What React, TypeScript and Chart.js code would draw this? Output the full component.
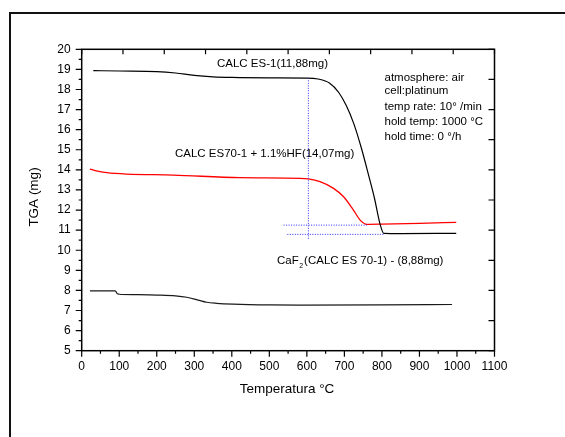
import React, { useEffect, useRef } from "react";
import { Chart, registerables } from "chart.js";

Chart.register(...registerables);

// CALC ES-1 (11,88mg)
const esTemp = [31, 100, 200, 250, 300, 350, 400, 500, 600, 630, 660, 685, 705, 725, 745, 765, 780, 795, 805, 850, 998];
const esMass = [18.94, 18.92, 18.89, 18.82, 18.7, 18.63, 18.6, 18.58, 18.57, 18.52, 18.32, 17.85, 17.2, 16.3, 15.1, 13.7, 12.6, 11.3, 10.84, 10.83, 10.84];

// CALC ES70-1 + 1.1%HF (14,07mg)
const hfTemp = [22, 45, 67, 120, 244, 422, 582, 604, 635, 671, 698, 724, 742, 760, 800, 900, 998];
const hfMass = [14.04, 13.93, 13.86, 13.79, 13.74, 13.61, 13.58, 13.55, 13.41, 13.08, 12.66, 12.0, 11.5, 11.29, 11.3, 11.34, 11.39];

// CaF2 (CALC ES 70-1) - (8,88mg)
const cafTemp = [22, 89, 91, 95, 100, 150, 200, 250, 280, 310, 333, 360, 404, 500, 582, 800, 987];
const cafMass = [7.98, 7.98, 7.95, 7.83, 7.81, 7.79, 7.77, 7.73, 7.66, 7.52, 7.41, 7.36, 7.32, 7.28, 7.27, 7.28, 7.3];

// blue dotted guide lines
const guideVTemp = [604, 604];
const guideVMass = [18.58, 10.55];
const guideH1Temp = [538, 760];
const guideH1Mass = [11.25, 11.25];
const guideH2Temp = [548, 806];
const guideH2Mass = [10.79, 10.79];

const xMin = 0, xMax = 1100, xStep = 100;
const yMin = 5, yMax = 20, yStep = 1;

const infoLines = [
  "atmosphere: air",
  "cell:platinum",
  "temp rate: 10° /min",
  "hold temp: 1000 °C",
  "hold time: 0 °/h",
];

const FONT = "'Liberation Sans', Arial, sans-serif";

const pts = (t: number[], m: number[]) => t.map((x, i) => ({ x, y: m[i] }));

const decorPlugin = {
  id: "decor",
  afterDraw(chart: any) {
    const ctx = chart.ctx as CanvasRenderingContext2D;
    const xs = chart.scales.x;
    const ys = chart.scales.y;
    const { left, right, top, bottom } = chart.chartArea;
    ctx.save();
    // outer frame
    ctx.strokeStyle = "#111";
    ctx.lineWidth = 2;
    ctx.strokeRect(10, 13, 700, 600);
    // plot border
    ctx.lineWidth = 1.5;
    ctx.strokeStyle = "#000";
    ctx.strokeRect(left, top, right - left, bottom - top);
    ctx.lineWidth = 1.2;
    ctx.beginPath();
    // bottom ticks
    for (let v = xMin; v <= xMax + 0.001; v += 50) {
      const px = xs.getPixelForValue(v);
      const len = v % 100 === 0 ? 6 : 3;
      ctx.moveTo(px, bottom);
      ctx.lineTo(px, bottom + len);
    }
    // top ticks (10 divisions)
    for (let k = 0; k <= 10; k++) {
      const px = xs.getPixelForValue(xMin + ((xMax - xMin) * k) / 10);
      ctx.moveTo(px, top);
      ctx.lineTo(px, top + 5);
    }
    // left ticks
    for (let v = yMin; v <= yMax + 0.001; v += 0.5) {
      const py = ys.getPixelForValue(v);
      const len = Math.abs(v - Math.round(v)) < 0.01 ? 6 : 3;
      ctx.moveTo(left - len, py);
      ctx.lineTo(left, py);
    }
    // right ticks (10 divisions)
    for (let k = 0; k <= 10; k++) {
      const py = ys.getPixelForValue(yMin + ((yMax - yMin) * k) / 10);
      ctx.moveTo(right - 6, py);
      ctx.lineTo(right, py);
    }
    ctx.stroke();

    // texts
    ctx.fillStyle = "#000";
    ctx.textBaseline = "middle";
    ctx.textAlign = "left";
    ctx.font = `11.5px ${FONT}`;
    ctx.fillText("CALC ES-1(11,88mg)", 217, 64);
    ctx.fillText("CALC ES70-1 + 1.1%HF(14,07mg)", 175, 154);
    const lineYs = [78, 91, 107, 122, 137];
    infoLines.forEach((s, i) => ctx.fillText(s, 384.5, lineYs[i]));
    // CaF2 with subscript
    let cx = 277;
    ctx.fillText("CaF", cx, 261);
    cx += ctx.measureText("CaF").width;
    ctx.font = `7px ${FONT}`;
    ctx.fillText("2", cx + 0.5, 266);
    cx += ctx.measureText("2").width + 1.5;
    ctx.font = `11.5px ${FONT}`;
    ctx.fillText("(CALC ES 70-1) - (8,88mg)", cx, 261);

    // axis titles
    ctx.font = `13.5px ${FONT}`;
    ctx.textAlign = "center";
    ctx.fillText("Temperatura °C", 287, 389);
    ctx.save();
    ctx.translate(34.6, 197);
    ctx.rotate(-Math.PI / 2);
    ctx.fillText("TGA (mg)", 0, 0);
    ctx.restore();
    ctx.restore();
  },
};

export default function App() {
  const ref = useRef<HTMLCanvasElement | null>(null);
  useEffect(() => {
    if (!ref.current) return;
    const dotted = { borderColor: "#2a2aff", borderWidth: 1, borderDash: [1, 1.5], pointRadius: 0, tension: 0 };
    const chart = new Chart(ref.current, {
      type: "line",
      data: {
        datasets: [
          { data: pts(guideVTemp, guideVMass), ...dotted },
          { data: pts(guideH1Temp, guideH1Mass), ...dotted },
          { data: pts(guideH2Temp, guideH2Mass), ...dotted },
          { data: pts(esTemp, esMass), borderColor: "#000", borderWidth: 1.2, pointRadius: 0, cubicInterpolationMode: "monotone" },
          { data: pts(hfTemp, hfMass), borderColor: "#ff0000", borderWidth: 1.3, pointRadius: 0, cubicInterpolationMode: "monotone" },
          { data: pts(cafTemp, cafMass), borderColor: "#1a1a1a", borderWidth: 1.2, pointRadius: 0, cubicInterpolationMode: "monotone" },
        ] as any,
      },
      options: {
        animation: false,
        responsive: false,
        events: [],
        layout: { padding: { left: 0, right: 70.5, top: 49.3, bottom: 0 } },
        plugins: { legend: { display: false }, tooltip: { enabled: false } },
        scales: {
          x: {
            type: "linear",
            min: xMin,
            max: xMax,
            grid: { display: false, drawTicks: false },
            border: { display: false },
            ticks: { stepSize: xStep, padding: 9, color: "#000", font: { family: FONT, size: 12 }, maxRotation: 0, callback: (v: any) => String(v) },
            afterFit: (s: any) => { s.height = 86.3; },
          },
          y: {
            type: "linear",
            min: yMin,
            max: yMax,
            grid: { display: false, drawTicks: false },
            border: { display: false },
            ticks: { stepSize: yStep, padding: 11, color: "#000", font: { family: FONT, size: 12 }, callback: (v: any) => String(v) },
            afterFit: (s: any) => { s.width = 81.7; },
          },
        },
      } as any,
      plugins: [decorPlugin],
    });
    return () => chart.destroy();
  }, []);
  return (
    <div style={{ position: "absolute", left: 0, top: 0, width: 565, height: 437, background: "#fff" }}>
      <canvas ref={ref} width={565} height={437} style={{ display: "block" }} />
    </div>
  );
}
